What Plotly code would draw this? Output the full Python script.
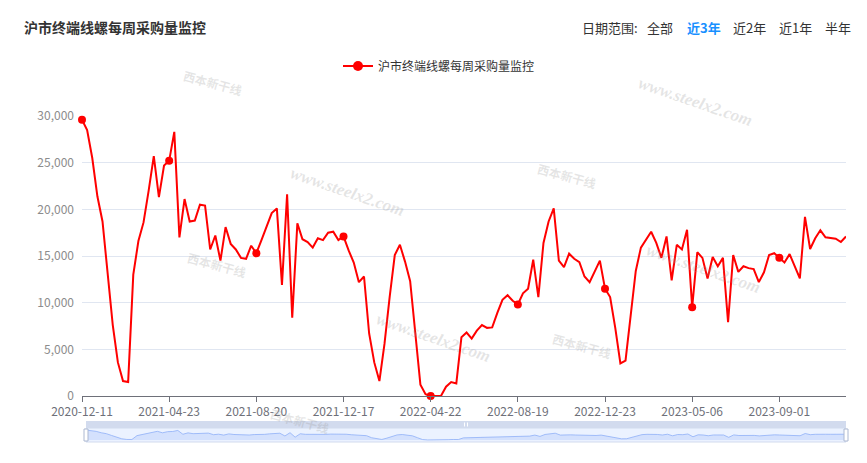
import plotly.graph_objects as go

# ---------------- data ----------------
dates = [
    "2020-12-11", "2020-12-18", "2020-12-25", "2021-01-01", "2021-01-08", "2021-01-15", "2021-01-22", "2021-01-29",
    "2021-02-05", "2021-02-26", "2021-03-05", "2021-03-12", "2021-03-19", "2021-03-26", "2021-04-02", "2021-04-09",
    "2021-04-16", "2021-04-23", "2021-04-30", "2021-05-07", "2021-05-14", "2021-05-21", "2021-05-28", "2021-06-04",
    "2021-06-11", "2021-06-18", "2021-06-25", "2021-07-02", "2021-07-09", "2021-07-16", "2021-07-23", "2021-07-30",
    "2021-08-06", "2021-08-13", "2021-08-20", "2021-08-27", "2021-09-03", "2021-09-10", "2021-09-17", "2021-09-24",
    "2021-10-01", "2021-10-08", "2021-10-15", "2021-10-22", "2021-10-29", "2021-11-05", "2021-11-12", "2021-11-19",
    "2021-11-26", "2021-12-03", "2021-12-10", "2021-12-17", "2021-12-24", "2021-12-31", "2022-01-07", "2022-01-14",
    "2022-01-21", "2022-01-28", "2022-02-11", "2022-02-18", "2022-02-25", "2022-03-04", "2022-03-11", "2022-03-18",
    "2022-03-25", "2022-04-01", "2022-04-08", "2022-04-15", "2022-04-22", "2022-04-29", "2022-05-06", "2022-05-13",
    "2022-05-20", "2022-05-27", "2022-06-03", "2022-06-10", "2022-06-17", "2022-06-24", "2022-07-01", "2022-07-08",
    "2022-07-15", "2022-07-22", "2022-07-29", "2022-08-05", "2022-08-12", "2022-08-19", "2022-08-26", "2022-09-02",
    "2022-09-09", "2022-09-16", "2022-09-23", "2022-09-30", "2022-10-14", "2022-10-21", "2022-10-28", "2022-11-04",
    "2022-11-11", "2022-11-18", "2022-11-25", "2022-12-02", "2022-12-09", "2022-12-16", "2022-12-23", "2022-12-30",
    "2023-01-06", "2023-01-13", "2023-02-03", "2023-02-10", "2023-02-17", "2023-02-24", "2023-03-03", "2023-03-10",
    "2023-03-17", "2023-03-24", "2023-03-31", "2023-04-07", "2023-04-14", "2023-04-21", "2023-04-28", "2023-05-06",
    "2023-05-12", "2023-05-19", "2023-05-26", "2023-06-02", "2023-06-09", "2023-06-16", "2023-06-23", "2023-06-30",
    "2023-07-07", "2023-07-14", "2023-07-21", "2023-07-28", "2023-08-04", "2023-08-11", "2023-08-18", "2023-08-25",
    "2023-09-01", "2023-09-08", "2023-09-15", "2023-09-22", "2023-09-29", "2023-10-06", "2023-10-13", "2023-10-20",
    "2023-10-27", "2023-11-03", "2023-11-10", "2023-11-17", "2023-11-24", "2023-12-01",
]

volume = [
    29600, 28500, 25500, 21400, 18700, 13500, 7600, 3600, 1600, 1500,
    13000, 16600, 18600, 22000, 25700, 21300, 24700, 25200, 28300, 17000,
    21100, 18700, 18800, 20500, 20400, 15700, 17200, 14500, 18100, 16300,
    15700, 14800, 14700, 16100, 15300, 16700, 18200, 19600, 20100, 11900,
    21600, 8400, 18500, 16800, 16500, 15900, 16900, 16700, 17500, 17600,
    16700, 17100, 15600, 14300, 12200, 12800, 6700, 3600, 1600, 5600,
    10600, 15100, 16200, 14400, 12300, 6700, 1200, 200, 0, 0,
    0, 1000, 1500, 1350, 6300, 6800, 6150, 7000, 7600, 7300,
    7350, 8900, 10300, 10800, 10200, 9800, 11000, 11500, 14600, 10600,
    16400, 18700, 20100, 14500, 13800, 15250, 14700, 14350, 12800, 12200,
    13400, 14500, 11500, 10600, 7300, 3500, 3800, 8400, 13400, 15900,
    16800, 17600, 16400, 14800, 17100, 12400, 16200, 15700, 17800, 9500,
    15400, 14800, 12600, 14900, 13900, 14800, 7900, 15100, 13300, 13900,
    13700, 13600, 12200, 13250, 15100, 15300, 14800, 14300, 15200, 13900,
    12600, 19200, 15750, 16900, 17750, 17000, 16900, 16850, 16500, 17100,
]

tick_labels = ["2020-12-11", "2021-04-23", "2021-08-20", "2021-12-17", "2022-04-22",
               "2022-08-19", "2022-12-23", "2023-05-06", "2023-09-01"]

series_name = "沪市终端线螺每周采购量监控"
title_text = "沪市终端线螺每周采购量监控"
range_label = "日期范围:"
range_buttons = ["全部", "近3年", "近2年", "近1年", "半年"]
active_button = "近3年"

# ---------------- geometry helpers (pixel -> paper) ----------------
W, H = 867, 463
ML, MR, MT, MB = 82, 21, 116, 18
PW, PH = W - ML - MR, H - MT - MB


def X(px):
    return (px - ML) / PW


def Y(py):
    return (H - MB - py) / PH


FONT = "Noto Sans CJK SC, Noto Sans, sans-serif"
RED = "#ff0000"

marker_idx = [dates.index(t) for t in tick_labels]

fig = go.Figure()

# slider data shadow
fig.add_trace(go.Scatter(
    x=dates, y=volume, mode="lines", fill="tozeroy",
    line=dict(color="#8fb0f7", width=0.8), fillcolor="rgba(143,176,247,0.25)",
    showlegend=False, xaxis="x2", yaxis="y2", hoverinfo="skip",
))
# main line
fig.add_trace(go.Scatter(
    x=dates, y=volume, mode="lines", name=series_name,
    line=dict(color=RED, width=2), showlegend=False,
    xaxis="x", yaxis="y", hoverinfo="x+y",
))
# visible symbols at label intervals
fig.add_trace(go.Scatter(
    x=[dates[i] for i in marker_idx], y=[volume[i] for i in marker_idx],
    mode="markers", marker=dict(color=RED, size=8), showlegend=False,
    xaxis="x", yaxis="y", hoverinfo="skip", cliponaxis=False,
))
# legend entry
fig.add_trace(go.Scatter(
    x=[None], y=[None], mode="lines+markers", name=series_name,
    line=dict(color=RED, width=2), marker=dict(color=RED, size=10),
    showlegend=True, xaxis="x", yaxis="y",
))

shapes = []
# slider body
sl_l, sl_r = X(86), 1.0
shapes.append(dict(type="rect", xref="paper", yref="paper", x0=sl_l, x1=sl_r,
                   y0=Y(442), y1=Y(428), fillcolor="rgba(135,175,255,0.17)",
                   line=dict(color="#d2dbee", width=1), layer="below"))
# move handle bar
shapes.append(dict(type="rect", xref="paper", yref="paper", x0=sl_l, x1=sl_r,
                   y0=Y(428), y1=Y(421), fillcolor="#d2dbee",
                   line=dict(width=0), layer="above"))
# small grip on move handle
for gx in (464.5, 467.5):
    shapes.append(dict(type="line", xref="paper", yref="paper", x0=X(gx), x1=X(gx),
                       y0=Y(426.5), y1=Y(422.5), line=dict(color="#ffffff", width=1)))
# side handles
for hx in (86, 846):
    shapes.append(dict(type="rect", xref="paper", yref="paper", x0=X(hx - 2), x1=X(hx + 2),
                       y0=Y(441), y1=Y(429), fillcolor="#ffffff",
                       line=dict(color="#acb8d1", width=1), layer="above"))

annotations = []
# title
annotations.append(dict(text="<b>" + title_text + "</b>", xref="paper", yref="paper",
                        x=X(22), y=Y(27), xanchor="left", yanchor="middle", showarrow=False,
                        font=dict(family=FONT, size=14, color="#333333")))
# date-range buttons
btn_x = [645, 685, 731, 777, 823]
annotations.append(dict(text=range_label, xref="paper", yref="paper", x=X(580), y=Y(27),
                        xanchor="left", yanchor="middle", showarrow=False,
                        font=dict(family=FONT, size=13, color="#333333")))
for bx, b in zip(btn_x, range_buttons):
    active = b == active_button
    annotations.append(dict(text=("<b>" + b + "</b>") if active else b, xref="paper", yref="paper",
                            x=X(bx), y=Y(27), xanchor="left", yanchor="middle", showarrow=False,
                            font=dict(family=FONT, size=13, color="#1890ff" if active else "#333333")))

# faint watermarks
WM = "rgba(150,150,150,0.25)"
for cx, cy in [(695, 101), (347, 191), (433, 337), (703, 268)]:
    annotations.append(dict(text="<b><i>www.steelx2.com</i></b>", xref="paper", yref="paper",
                            x=X(cx), y=Y(cy), xanchor="center", yanchor="middle", showarrow=False,
                            textangle=19, font=dict(family="Liberation Serif", size=17, color=WM)))
for cx, cy in [(213, 82), (567, 175), (217, 264), (582, 345), (300, 420)]:
    annotations.append(dict(text="<b>西本新干线</b>", xref="paper", yref="paper",
                            x=X(cx), y=Y(cy), xanchor="center", yanchor="middle", showarrow=False,
                            textangle=15, font=dict(family=FONT, size=12, color=WM)))

fig.update_layout(
    width=W, height=H,
    margin=dict(l=ML, r=MR, t=MT, b=MB, pad=0),
    paper_bgcolor="#ffffff", plot_bgcolor="#ffffff",
    font=dict(family=FONT, size=12, color="#333333"),
    showlegend=True,
    legend=dict(orientation="h", x=X(338), y=Y(66), xanchor="left", yanchor="middle",
                font=dict(family=FONT, size=12, color="#333333"), bgcolor="rgba(0,0,0,0)",
                itemwidth=30),
    xaxis=dict(type="category", range=[0, len(dates) - 1], domain=[0, 1], anchor="y",
               tickmode="array", tickvals=tick_labels, ticktext=tick_labels,
               showgrid=False, zeroline=False, showline=True, linecolor="#6e7079", linewidth=1,
               ticks="outside", ticklen=5, tickcolor="#6e7079", tickwidth=1,
               tickfont=dict(family=FONT, size=12, color="#6e7079"), tickangle=0,
               fixedrange=True),
    yaxis=dict(range=[0, 30000], domain=[Y(396), 1], anchor="x", dtick=5000, tick0=0,
               tickformat=",", showgrid=True, gridcolor="#e0e6f1", gridwidth=1,
               zeroline=False, showline=False, ticks="", ticklabelstandoff=7,
               tickfont=dict(family=FONT, size=12, color="#8c8c8c"), fixedrange=True),
    xaxis2=dict(type="category", range=[0, len(dates) - 1], domain=[sl_l, sl_r], anchor="y2",
                visible=False, fixedrange=True),
    yaxis2=dict(range=[-5920, 35520], domain=[Y(442), Y(428)], anchor="x2",
                visible=False, fixedrange=True),
    shapes=shapes,
    annotations=annotations,
    hovermode="x",
)

fig.write_html(
    "out.html",
    config={"displayModeBar": False},
    post_script="document.body.style.margin='0';document.body.style.overflow='hidden';",
)
